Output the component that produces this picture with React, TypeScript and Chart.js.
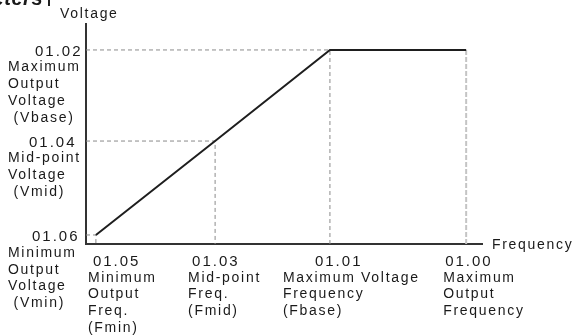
import React, { useEffect, useRef } from "react";
import { Chart, registerables } from "chart.js";

Chart.register(...registerables);

// ---- data (relative units) ----
const freqCodes = ["01.05", "01.03", "01.01", "01.00"];
const freqNames = [
  ["Minimum", "Output", "Freq.", "(Fmin)"],
  ["Mid-point", "Freq.", "(Fmid)"],
  ["Maximum Voltage", "Frequency", "(Fbase)"],
  ["Maximum", "Output", "Frequency"],
];
const freqValues = [2.5, 32.6, 61.6, 96.0]; // Fmin, Fmid, Fbase, Fmax

const voltCodes = ["01.06", "01.04", "01.02"];
const voltNames = [
  ["Minimum", "Output", "Voltage", " (Vmin)"],
  ["Mid-point", "Voltage", " (Vmid)"],
  ["Maximum", "Output", "Voltage", " (Vbase)"],
];
const voltValues = [4.1, 46.8, 88.2]; // Vmin, Vmid, Vbase

const xAxisTitle = "Frequency";
const yAxisTitle = "Voltage";
const headerText = "Parameters";

// ---- layout (pixel offsets for annotation text) ----
const freqCodeDx = [-3, -23, -15, -21];
const freqNameDx = [-8, -27, -47, -23];
const voltCodeLeft = [32, 29, 35];
const voltNameDy = [18, 17, 17];
const voltLineStep = [16.7, 17, 17];

export default function App() {
  const ref = useRef<HTMLCanvasElement | null>(null);

  useEffect(() => {
    const canvas = ref.current;
    if (!canvas) return;
    const [Fmin, Fmid, Fbase, Fmax] = freqValues;
    const [Vmin, Vmid, Vbase] = voltValues;
    const guide = (pts: { x: number; y: number }[]) => ({
      data: pts,
      borderColor: "#8a8a8a",
      borderWidth: 1,
      borderDash: [4, 3],
      pointRadius: 0,
      tension: 0,
    });

    const textPlugin = {
      id: "annotText",
      afterDraw(chart: any) {
        const ctx = chart.ctx as CanvasRenderingContext2D;
        const xs = chart.scales.x;
        const ys = chart.scales.y;
        const axisY = ys.getPixelForValue(0);
        const axisX = xs.getPixelForValue(0);
        ctx.save();
        ctx.fillStyle = "#1a1a1a";
        ctx.textBaseline = "middle";
        ctx.textAlign = "left";
        const codeFont = "15px 'Liberation Sans', Arial, sans-serif";
        const nameFont = "14px 'Liberation Sans', Arial, sans-serif";
        // x labels
        freqValues.forEach((v, i) => {
          const px = xs.getPixelForValue(v);
          ctx.font = codeFont;
          (ctx as any).letterSpacing = "2px";
          ctx.fillText(freqCodes[i], px + freqCodeDx[i], axisY + 18);
          ctx.font = nameFont;
          (ctx as any).letterSpacing = "1.7px";
          freqNames[i].forEach((line, j) => {
            ctx.fillText(line, px + freqNameDx[i], axisY + 34 + j * 16.6);
          });
        });
        // y labels
        voltValues.forEach((v, i) => {
          const py = ys.getPixelForValue(v);
          ctx.font = codeFont;
          (ctx as any).letterSpacing = "2px";
          ctx.fillText(voltCodes[i], voltCodeLeft[i], py + 2);
          ctx.font = nameFont;
          (ctx as any).letterSpacing = "1.7px";
          voltNames[i].forEach((line, j) => {
            ctx.fillText(line, 8, py + voltNameDy[i] + j * voltLineStep[i]);
          });
        });
        // axis titles
        ctx.font = nameFont;
        (ctx as any).letterSpacing = "1.7px";
        ctx.fillText(yAxisTitle, axisX - 26, chart.chartArea.top - 10);
        ctx.fillText(xAxisTitle, chart.chartArea.right + 10, axisY + 1);
        // header (cropped at top edge)
        ctx.font = "bold italic 20px 'Liberation Sans', Arial, sans-serif";
        (ctx as any).letterSpacing = "0.5px";
        ctx.textAlign = "right";
        ctx.textBaseline = "alphabetic";
        ctx.fillText(headerText, 43, 5);
        ctx.strokeStyle = "#222";
        ctx.lineWidth = 2;
        ctx.beginPath();
        ctx.moveTo(49, 0);
        ctx.lineTo(49, 6);
        ctx.stroke();
        ctx.restore();
      },
    };

    const chart = new Chart(canvas, {
      type: "line",
      data: {
        datasets: [
          {
            data: [
              { x: Fmin, y: Vmin },
              { x: Fmid, y: Vmid },
              { x: Fbase, y: Vbase },
              { x: Fmax, y: Vbase },
            ],
            borderColor: "#1e1e1e",
            borderWidth: 2,
            pointRadius: 0,
            tension: 0,
          },
          guide([
            { x: 0, y: Vbase },
            { x: Fbase, y: Vbase },
            { x: Fbase, y: 0 },
          ]),
          guide([
            { x: 0, y: Vmid },
            { x: Fmid, y: Vmid },
            { x: Fmid, y: 0 },
          ]),
          guide([
            { x: 0, y: Vmin },
            { x: Fmin, y: Vmin },
            { x: Fmin, y: 0 },
          ]),
          {
            data: [
              { x: Fmax, y: Vbase },
              { x: Fmax, y: 0 },
            ],
            borderColor: "#c4c4c4",
            borderWidth: 2,
            borderDash: [5, 2],
            pointRadius: 0,
            tension: 0,
          },
        ],
      },
      options: {
        animation: false,
        responsive: false,
        maintainAspectRatio: false,
        layout: { padding: { left: 86, right: 91, top: 24, bottom: 92 } },
        plugins: { legend: { display: false }, tooltip: { enabled: false } },
        scales: {
          x: {
            type: "linear",
            min: 0,
            max: 100,
            grid: { display: false, drawTicks: false },
            ticks: { display: false },
            border: { display: true, color: "#333", width: 2 },
          },
          y: {
            type: "linear",
            min: 0,
            max: 100,
            grid: { display: false, drawTicks: false },
            ticks: { display: false },
            border: { display: true, color: "#333", width: 2 },
          },
        },
      },
      plugins: [textPlugin],
    });
    return () => chart.destroy();
  }, []);

  return (
    <div style={{ position: "absolute", left: 0, top: 0, width: 573, height: 336, background: "#fff" }}>
      <canvas ref={ref} width={573} height={336} style={{ width: 573, height: 336, display: "block" }} />
    </div>
  );
}
